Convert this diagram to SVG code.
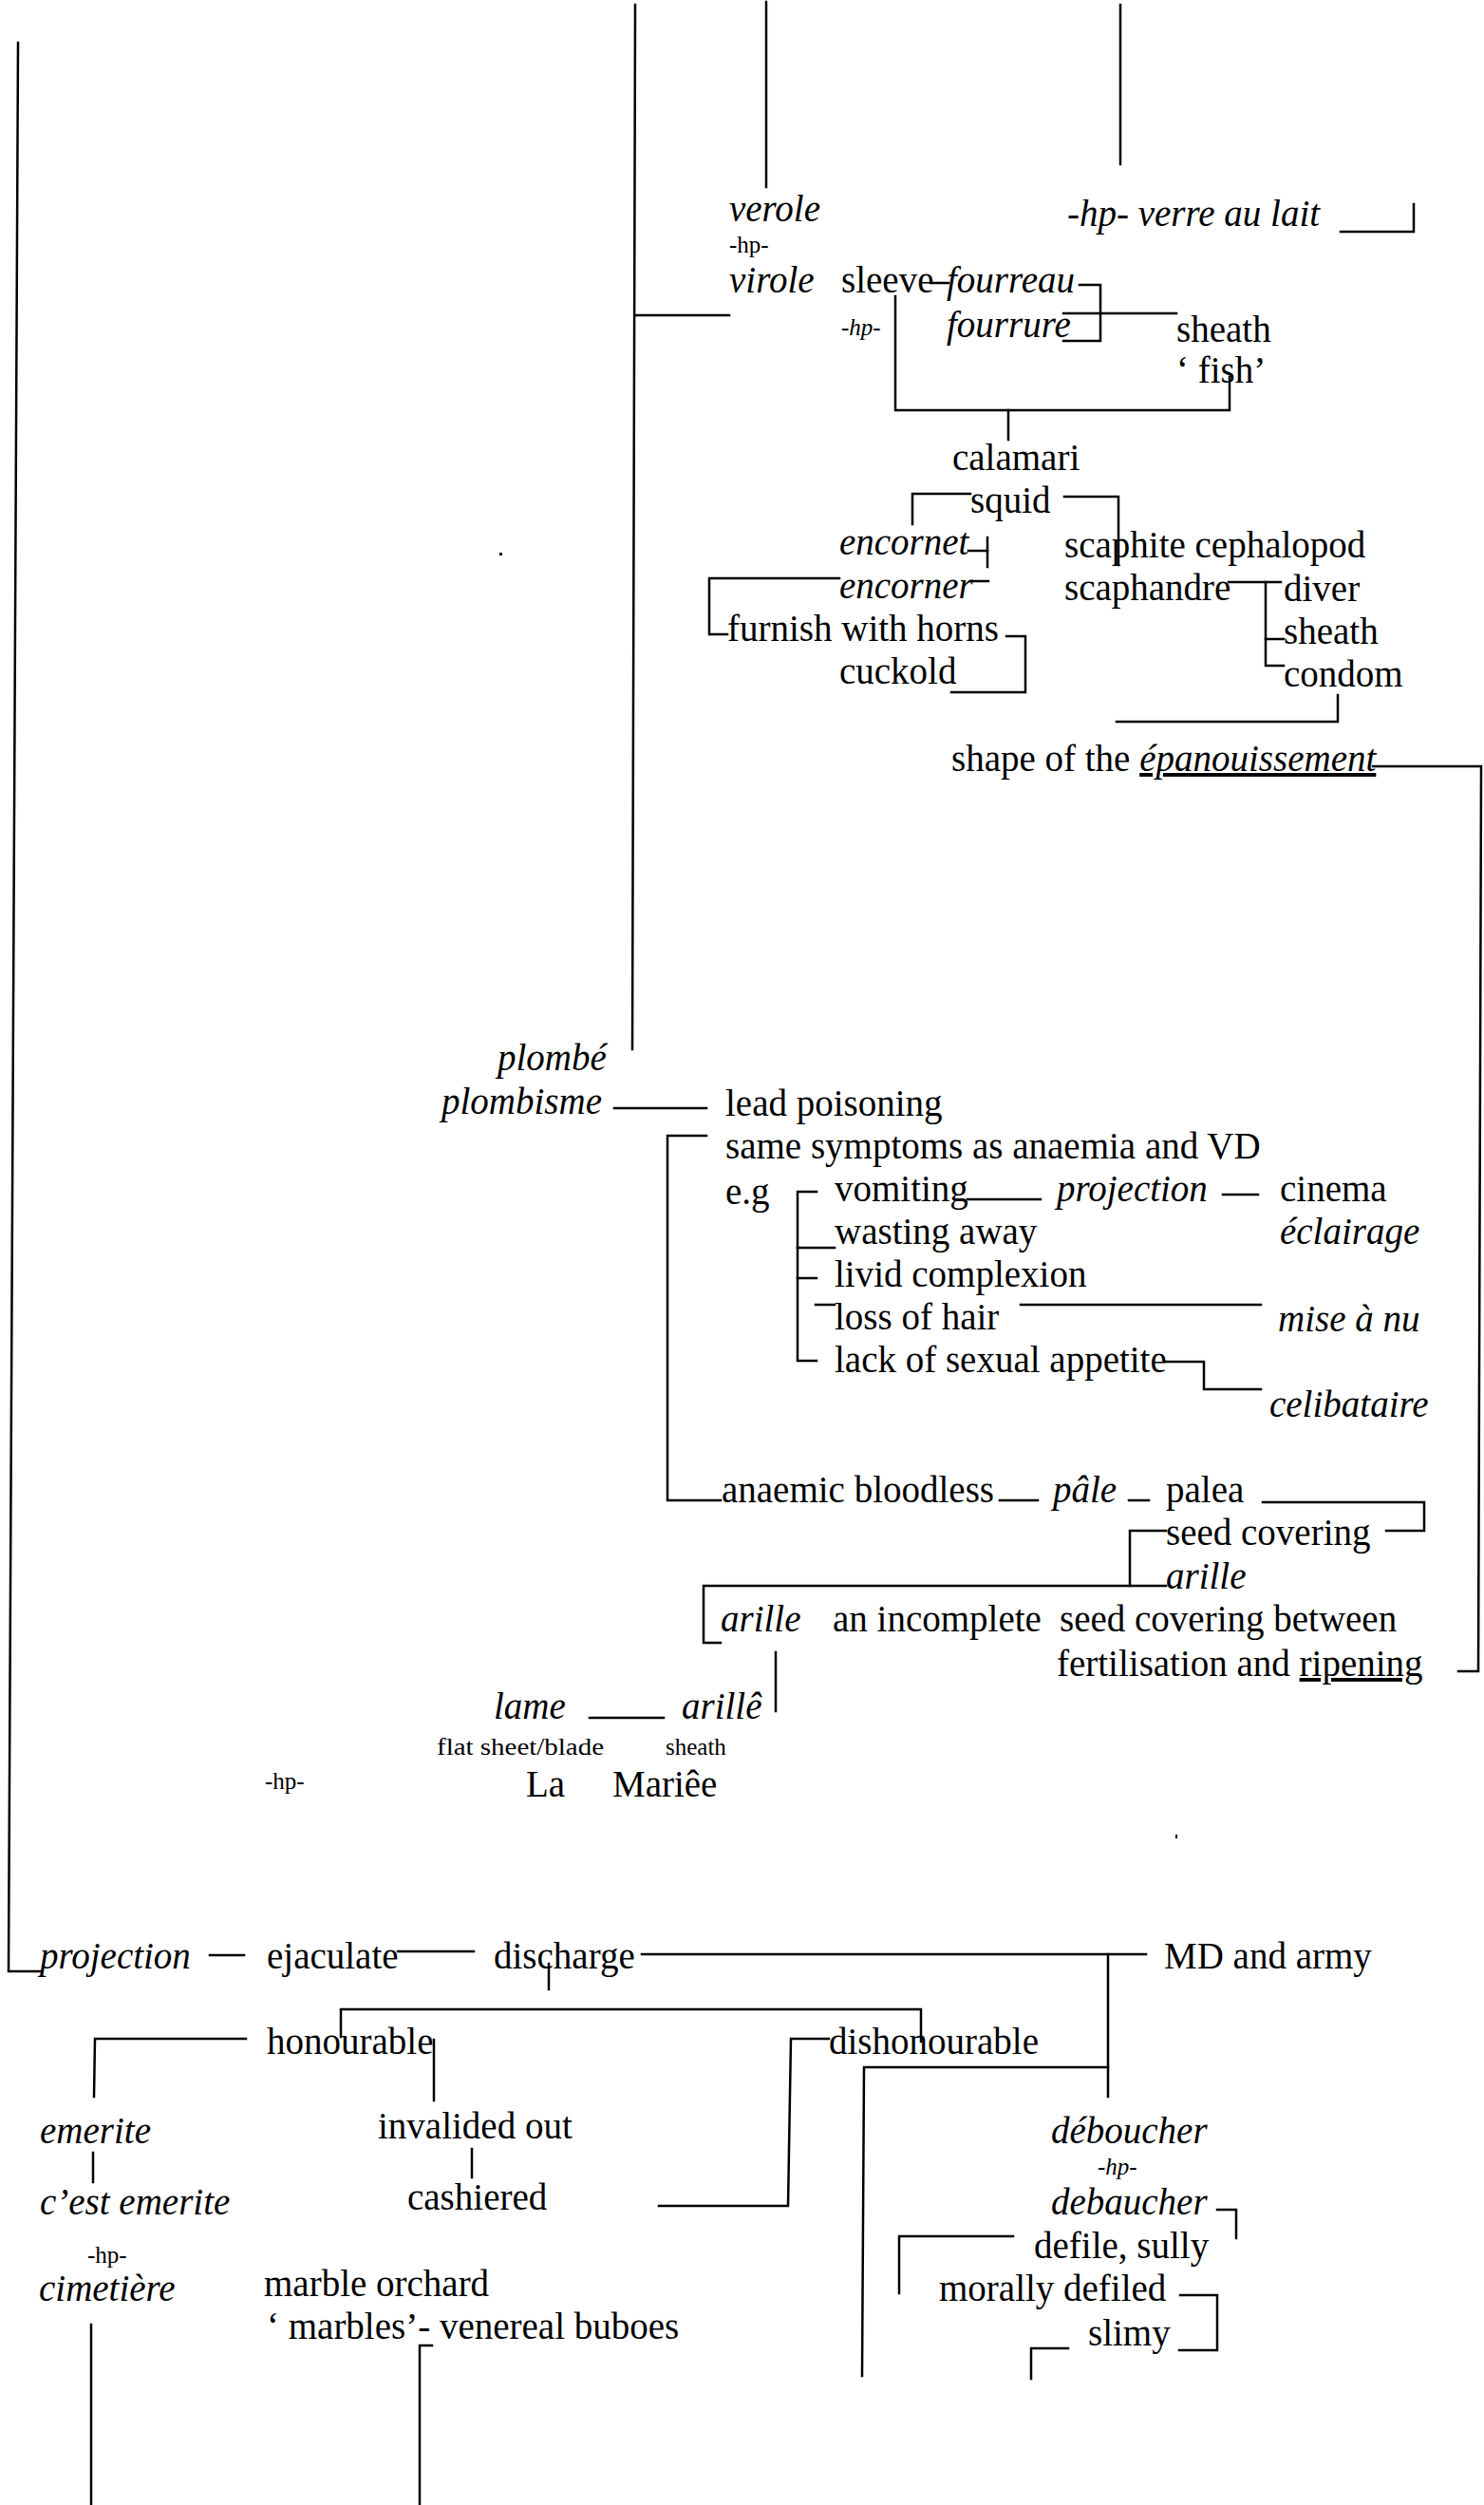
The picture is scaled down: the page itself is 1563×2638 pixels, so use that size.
<svg xmlns="http://www.w3.org/2000/svg" width="1563" height="2638" viewBox="0 0 1563 2638">
<style>
  text { font-family: "Liberation Serif", "Times New Roman", serif; font-size: 39px; fill: #000; }
  .i { font-style: italic; }
  .s { font-size: 25px; }
  .u { text-decoration: underline; }
  #connectors path { stroke: #000; stroke-width: 2.5; fill: none; stroke-linecap: square; }
</style>
<rect width="1563" height="2638" fill="#fff"/>

<g id="connectors">
  <!-- upper trunk and branches -->
  <path d="M669 5 L666 1105"/>
  <path d="M669 332 H768"/>
  <path d="M807 2 V197"/>
  <path d="M1180 5 V173"/>
  <path d="M1412 244 H1489 V215"/>
  <path d="M980 298 H999"/>
  <path d="M1137 300 H1159 V359 H1120"/>
  <path d="M1120 330 H1239"/>
  <path d="M943 312 V432 H1295 V397"/>
  <path d="M1062 432 V463"/>
  <!-- squid family -->
  <path d="M1022 520 H961 V552"/>
  <path d="M1121 523 H1178 V595"/>
  <path d="M1020 580 H1040"/>
  <path d="M1040 566 V597"/>
  <path d="M1022 612 H1041"/>
  <path d="M884 609 H747 V668 H766"/>
  <path d="M1060 670 H1080 V729 H1002"/>
  <path d="M1294 613 H1349"/>
  <path d="M1333 613 V701 H1352"/>
  <path d="M1333 673 H1352"/>
  <path d="M1409 732 V760 H1176"/>
  <path d="M1446 807 H1560 L1557 1760 H1536"/>
  <!-- plombisme -->
  <path d="M647 1167 H744"/>
  <path d="M744 1196 H703 V1580 H759"/>
  <path d="M860 1255 H840 V1433 H860"/>
  <path d="M840 1314 H879"/>
  <path d="M840 1346 H860"/>
  <path d="M859 1374 H879"/>
  <path d="M1019 1263 H1096"/>
  <path d="M1288 1258 H1325"/>
  <path d="M1075 1374 H1328"/>
  <path d="M1228 1434 H1268 V1463 H1328"/>
  <path d="M1053 1580 H1093"/>
  <path d="M1189 1580 H1210"/>
  <path d="M1330 1582 H1500 V1612 H1460"/>
  <path d="M1228 1612 H1190 V1670"/>
  <path d="M1228 1670 H741 V1730 H759"/>
  <path d="M817 1740 V1802"/>
  <path d="M621 1809 H699"/>
  <!-- projection / discharge -->
  <path d="M19 45 L9 2076 H43"/>
  <path d="M221 2059 H257"/>
  <path d="M419 2055 H499"/>
  <path d="M578 2068 V2095"/>
  <path d="M676 2058 H1207"/>
  <path d="M1167 2058 V2208"/>
  <path d="M1167 2177 H910 L908 2502"/>
  <path d="M359 2145 V2116 H970 V2150"/>
  <path d="M259 2147 H100 L99 2208"/>
  <path d="M457 2148 V2212"/>
  <path d="M873 2147 H833 L830 2323 H694"/>
  <path d="M98 2267 V2298"/>
  <path d="M497 2263 V2293"/>
  <path d="M96 2448 V2638"/>
  <path d="M455 2470 H442 V2638"/>
  <path d="M1282 2327 H1302 V2357"/>
  <path d="M1067 2355 H947 V2415"/>
  <path d="M1243 2417 H1282 V2475 H1242"/>
  <path d="M1125 2473 H1086 V2505"/>
</g>

<!-- stray specks on the sheet -->
<g id="specks">
  <rect x="526" y="582" width="3" height="3" fill="#000"/>
  <rect x="1238" y="1932" width="2" height="4" fill="#000"/>
</g>

<g id="n-verole"><text class="i" x="768" y="233">verole</text></g>
<g id="n-hp1"><text class="s" x="768" y="266">-hp-</text></g>
<g id="n-virole"><text class="i" x="768" y="308">virole</text></g>
<g id="n-sleeve"><text x="886" y="308">sleeve</text></g>
<g id="n-fourreau"><text class="i" x="997" y="308">fourreau</text></g>
<g id="n-hp2"><text class="i s" x="886" y="353">-hp-</text></g>
<g id="n-fourrure"><text class="i" x="997" y="355">fourrure</text></g>
<g id="n-sheath1"><text x="1239" y="360">sheath</text></g>
<g id="n-fish"><text x="1239" y="403">‘ fish’</text></g>
<g id="n-verre"><text class="i" x="1124" y="238">-hp- verre au lait</text></g>
<g id="n-calamari"><text x="1003" y="495">calamari</text></g>
<g id="n-squid"><text x="1022" y="540">squid</text></g>
<g id="n-encornet"><text class="i" x="884" y="584">encornet</text></g>
<g id="n-scaphite"><text x="1121" y="587">scaphite cephalopod</text></g>
<g id="n-encorner"><text class="i" x="884" y="630">encorner</text></g>
<g id="n-scaphandre"><text x="1121" y="632">scaphandre</text></g>
<g id="n-diver"><text x="1352" y="633">diver</text></g>
<g id="n-furnish"><text x="766" y="675">furnish with horns</text></g>
<g id="n-sheath2"><text x="1352" y="678">sheath</text></g>
<g id="n-cuckold"><text x="884" y="720">cuckold</text></g>
<g id="n-condom"><text x="1352" y="723">condom</text></g>
<g id="n-shape"><text x="1002" y="812">shape of the <tspan class="i u">épanouissement</tspan></text></g>

<g id="n-plombe"><text class="i" x="524" y="1127">plombé</text></g>
<g id="n-plombisme"><text class="i" x="465" y="1173">plombisme</text></g>
<g id="n-lead"><text x="764" y="1175">lead poisoning</text></g>
<g id="n-same"><text x="764" y="1220">same symptoms as anaemia and VD</text></g>
<g id="n-eg"><text x="764" y="1268">e.g</text></g>
<g id="n-vomiting"><text x="879" y="1265">vomiting</text></g>
<g id="n-projection1"><text class="i" x="1113" y="1265">projection</text></g>
<g id="n-cinema"><text x="1348" y="1265">cinema</text></g>
<g id="n-wasting"><text x="879" y="1310">wasting away</text></g>
<g id="n-eclairage"><text class="i" x="1348" y="1310">éclairage</text></g>
<g id="n-livid"><text x="879" y="1355">livid complexion</text></g>
<g id="n-loss"><text x="879" y="1400">loss of hair</text></g>
<g id="n-mise"><text class="i" x="1346" y="1402">mise à nu</text></g>
<g id="n-lack"><text x="879" y="1445">lack of sexual appetite</text></g>
<g id="n-celibataire"><text class="i" x="1337" y="1492">celibataire</text></g>
<g id="n-anaemic"><text x="760" y="1582">anaemic bloodless</text></g>
<g id="n-pale"><text class="i" x="1109" y="1582">pâle</text></g>
<g id="n-palea"><text x="1228" y="1582">palea</text></g>
<g id="n-seed"><text x="1228" y="1627">seed covering</text></g>
<g id="n-arille1"><text class="i" x="1228" y="1673">arille</text></g>
<g id="n-arille2"><text class="i" x="759" y="1718">arille</text></g>
<g id="n-incomplete"><text x="877" y="1718">an incomplete</text></g>
<g id="n-between"><text x="1116" y="1718">seed covering between</text></g>
<g id="n-fertilisation"><text x="1113" y="1765">fertilisation and <tspan class="u">ripening</tspan></text></g>
<g id="n-lame"><text class="i" x="520" y="1810">lame</text></g>
<g id="n-arille3"><text class="i" x="718" y="1810">arillê</text></g>
<g id="n-flat"><text class="s" x="460" y="1848" textLength="176" lengthAdjust="spacingAndGlyphs">flat sheet/blade</text></g>
<g id="n-sheath3"><text class="s" x="701" y="1848">sheath</text></g>
<g id="n-hp3"><text class="s" x="279" y="1884">-hp-</text></g>
<g id="n-la"><text x="554" y="1892">La</text></g>
<g id="n-mariee"><text x="645" y="1892">Mariêe</text></g>

<g id="n-projection2"><text class="i" x="42" y="2073">projection</text></g>
<g id="n-ejaculate"><text x="281" y="2073">ejaculate</text></g>
<g id="n-discharge"><text x="520" y="2073">discharge</text></g>
<g id="n-md"><text x="1226" y="2073">MD and army</text></g>
<g id="n-honourable"><text x="281" y="2163">honourable</text></g>
<g id="n-dishonourable"><text x="873" y="2163">dishonourable</text></g>
<g id="n-emerite"><text class="i" x="42" y="2257">emerite</text></g>
<g id="n-invalided"><text x="398" y="2252">invalided out</text></g>
<g id="n-deboucher"><text class="i" x="1107" y="2257">déboucher</text></g>
<g id="n-hp4"><text class="i s" x="1156" y="2290">-hp-</text></g>
<g id="n-cest"><text class="i" x="42" y="2332">c’est emerite</text></g>
<g id="n-cashiered"><text x="429" y="2327">cashiered</text></g>
<g id="n-debaucher"><text class="i" x="1107" y="2332">debaucher</text></g>
<g id="n-defile"><text x="1089" y="2378">defile, sully</text></g>
<g id="n-hp5"><text class="s" x="92" y="2383">-hp-</text></g>
<g id="n-cimetiere"><text class="i" x="41" y="2423">cimetière</text></g>
<g id="n-marble"><text x="278" y="2418">marble orchard</text></g>
<g id="n-morally"><text x="989" y="2423">morally defiled</text></g>
<g id="n-marbles"><text x="281" y="2463">‘ marbles’- venereal buboes</text></g>
<g id="n-slimy"><text x="1146" y="2470">slimy</text></g>
</svg>
